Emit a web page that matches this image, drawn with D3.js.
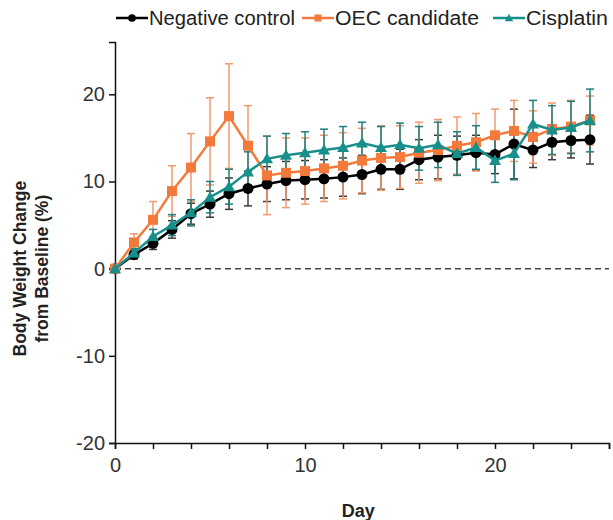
<!DOCTYPE html>
<html>
<head>
    <meta charset="utf-8">
    <title>Body weight change</title>
    <script src="https://d3js.org/d3.v7.min.js"></script>
    <style>
        body { margin: 0; background: #fff; }
        svg { font-family: "Liberation Sans", Arial, sans-serif; }
    </style>
</head>
<body>
    <svg width="613" height="520"></svg>
    <script>
        // days 0..25
        const days = d3.range(0, 26);

        const seriesNames = ["Negative control", "OEC candidate", "Cisplatin"];
        const seriesColors = ["#000000", "#f47a3c", "#17908c"];
        const barColors = ["#3a3a3a", "#f59a6c", "#1f7f7c"];

        const controlMean = [0, 1.6, 2.9, 4.5, 6.3, 7.4, 8.6, 9.2, 9.7, 10.1, 10.2, 10.3, 10.5, 10.8, 11.4, 11.4, 12.5, 12.8, 13.0, 13.3, 13.1, 14.3, 13.6, 14.5, 14.7, 14.8];
        const controlErr = [0, 0.5, 0.7, 1.0, 1.2, 1.5, 1.8, 2.0, 2.0, 2.2, 2.2, 2.2, 2.2, 2.2, 2.3, 2.3, 2.3, 2.5, 2.2, 2.0, 2.2, 4.0, 2.0, 2.0, 2.0, 2.8];

        const oecMean = [0, 3.0, 5.6, 8.9, 11.6, 14.6, 17.5, 14.1, 10.7, 11.0, 11.2, 11.5, 11.8, 12.4, 12.7, 12.8, 13.3, 13.6, 14.1, 14.5, 15.3, 15.8, 15.1, 16.0, 16.3, 17.0];
        const oecErr = [0, 1.0, 2.1, 2.9, 3.9, 5.0, 6.0, 4.6, 4.5, 4.0, 3.8, 3.8, 3.8, 3.7, 3.7, 3.6, 3.5, 3.5, 3.3, 3.3, 3.0, 3.5, 3.0, 3.0, 3.0, 2.8];

        const cisMean = [0, 1.8, 3.7, 5.0, 6.4, 8.2, 9.4, 11.1, 12.6, 13.0, 13.3, 13.6, 13.9, 14.4, 13.9, 14.2, 13.8, 14.2, 13.2, 13.9, 12.4, 13.2, 16.6, 15.9, 16.2, 17.0];
        const cisErr = [0, 0.5, 0.8, 1.2, 1.5, 1.8, 2.0, 2.3, 2.6, 2.5, 2.4, 2.4, 2.4, 2.4, 2.4, 2.5, 2.5, 2.6, 2.5, 2.5, 2.5, 3.0, 2.7, 2.8, 3.0, 3.6];

        const yTicks = [-20, -10, 0, 10, 20];
        const xLabelTicks = [0, 10, 20];

        const svg = d3.select("svg");
        const plotLeft = 115, plotRight = 609, plotTop = 42, plotBottom = 443;

        const x = d3.scaleLinear().domain([0, 26]).range([plotLeft, plotRight]);
        const y = d3.scaleLinear().domain([-20, 26]).range([plotBottom, plotTop]);

        // zero reference line
        svg.append("line")
            .attr("x1", x(0)).attr("x2", x(26))
            .attr("y1", y(0)).attr("y2", y(0))
            .attr("stroke", "#444").attr("stroke-width", 1.5)
            .attr("stroke-dasharray", "6,4");

        // y axis
        const yAxis = svg.append("g")
            .attr("transform", `translate(${plotLeft},0)`)
            .call(d3.axisLeft(y).tickValues(yTicks).tickSize(6).tickFormat(d => String(d)));
        yAxis.select(".domain").attr("stroke", "#111").attr("stroke-width", 1.5);
        yAxis.selectAll(".tick line").attr("stroke", "#111").attr("stroke-width", 1.5);
        yAxis.selectAll("text").attr("font-size", 20).attr("fill", "#333").attr("x", -10);

        // x axis: ticks every 2 days, labels every 10
        const xAxis = svg.append("g")
            .attr("transform", `translate(0,${plotBottom})`)
            .call(d3.axisBottom(x).tickValues(d3.range(0, 27, 2)).tickSize(6)
                .tickFormat(d => xLabelTicks.includes(d) ? String(d) : ""));
        xAxis.select(".domain").attr("stroke", "#111").attr("stroke-width", 1.5);
        xAxis.selectAll(".tick line").attr("stroke", "#111").attr("stroke-width", 1.5);
        xAxis.selectAll("text").attr("font-size", 20).attr("fill", "#333").attr("y", 15);

        // axis titles
        svg.append("text")
            .attr("transform", `translate(26,${y(0)}) rotate(-90)`)
            .attr("text-anchor", "middle")
            .attr("font-size", 17.5).attr("font-weight", "bold").attr("fill", "#222")
            .text("Body Weight Change");
        svg.append("text")
            .attr("transform", `translate(48,${y(0)}) rotate(-90)`)
            .attr("text-anchor", "middle")
            .attr("font-size", 17.5).attr("font-weight", "bold").attr("fill", "#222")
            .text("from Baseline (%)");
        svg.append("text")
            .attr("x", x(12.8)).attr("y", 517)
            .attr("text-anchor", "middle")
            .attr("font-size", 18).attr("font-weight", "bold").attr("fill", "#222")
            .text("Day");

        const series = [
            { name: seriesNames[0], mean: controlMean, err: controlErr, shape: "circle" },
            { name: seriesNames[1], mean: oecMean, err: oecErr, shape: "square" },
            { name: seriesNames[2], mean: cisMean, err: cisErr, shape: "triangle" }
        ];

        function drawMarker(g, shape, color, cx, cy, scale) {
            const s = scale || 1;
            if (shape === "circle") {
                g.append("circle").attr("cx", cx).attr("cy", cy).attr("r", 5.5 * s).attr("fill", color);
            } else if (shape === "square") {
                const h = 5 * s;
                g.append("rect").attr("x", cx - h).attr("y", cy - h).attr("width", 2 * h).attr("height", 2 * h).attr("fill", color);
            } else {
                const r = 6 * s;
                g.append("path")
                    .attr("d", `M${cx},${cy - r}L${cx + r},${cy + r * 0.75}L${cx - r},${cy + r * 0.75}Z`)
                    .attr("fill", color);
            }
        }

        const line = d3.line().x((d, i) => x(days[i])).y(d => y(d));

        // error bars first, then lines and markers on top
        series.forEach((s, si) => {
            const g = svg.append("g");
            days.forEach((d, i) => {
                if (s.err[i] === 0) return;
                const lo = y(s.mean[i] - s.err[i]), hi = y(s.mean[i] + s.err[i]);
                g.append("line").attr("x1", x(d)).attr("x2", x(d)).attr("y1", lo).attr("y2", hi)
                    .attr("stroke", barColors[si]).attr("stroke-width", 1.5);
                [lo, hi].forEach(v => g.append("line")
                    .attr("x1", x(d) - 4).attr("x2", x(d) + 4).attr("y1", v).attr("y2", v)
                    .attr("stroke", barColors[si]).attr("stroke-width", 1.5));
            });
        });

        series.forEach((s, si) => {
            const g = svg.append("g");
            g.append("path").datum(s.mean).attr("d", line)
                .attr("fill", "none").attr("stroke", seriesColors[si]).attr("stroke-width", 2.5);
            days.forEach((d, i) => drawMarker(g, s.shape, seriesColors[si], x(d), y(s.mean[i])));
        });

        // legend
        const legendX = [116, 302, 493];
        const legend = svg.append("g");
        series.forEach((s, si) => {
            const lx = legendX[si], ly = 18;
            legend.append("line").attr("x1", lx).attr("x2", lx + 32).attr("y1", ly).attr("y2", ly)
                .attr("stroke", seriesColors[si]).attr("stroke-width", 2.5);
            drawMarker(legend, s.shape, seriesColors[si], lx + 16, ly, 0.7);
            legend.append("text").attr("x", lx + 33).attr("y", ly + 7)
                .attr("font-size", 20).attr("fill", "#222")
                .attr("textLength", [146, 144, 82][si]).attr("lengthAdjust", "spacingAndGlyphs")
                .text(s.name);
        });
    </script>
</body>
</html>
